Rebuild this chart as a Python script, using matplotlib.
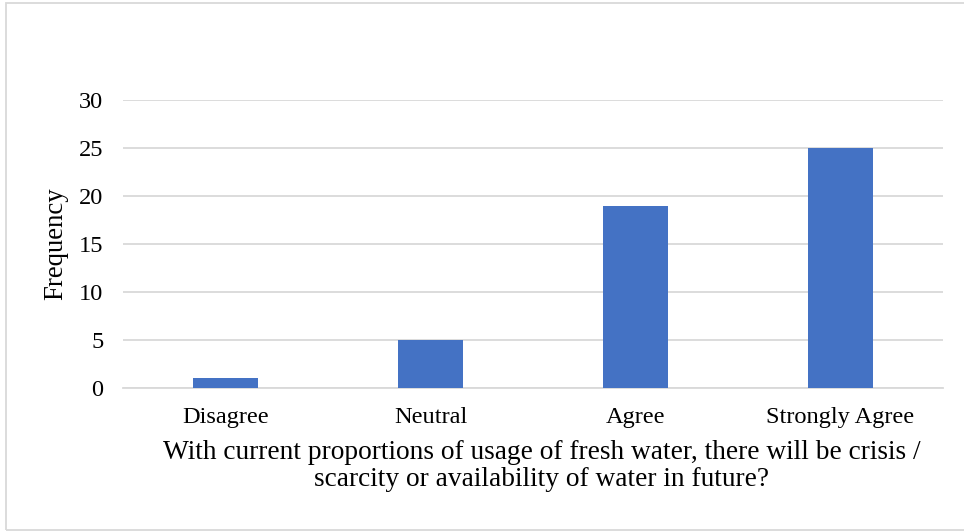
import matplotlib
matplotlib.use("Agg")
import matplotlib.pyplot as plt
from matplotlib.patches import Rectangle

categories = ["Disagree", "Neutral", "Agree", "Strongly Agree"]
frequency = [1, 5, 19, 25]
y_ticks = [0, 5, 10, 15, 20, 25, 30]

plt.rcParams["font.family"] = ["Liberation Serif", "DejaVu Serif"]

W, H = 964, 531
fig = plt.figure(figsize=(W / 100, H / 100), dpi=100)

# chart-area frame
fig.patches.append(Rectangle((6 / W, 1 / H), 1.2, (H - 4) / H, transform=fig.transFigure,
                             fill=False, edgecolor="#d9d9d9", linewidth=1.3))

ax = fig.add_axes([123 / W, 1 - 388 / H, (943 - 123) / W, (388 - 100) / H])
x = range(len(categories))
ax.bar(x, frequency, width=0.317, color="#4472c4", zorder=3)

ax.set_xlim(-0.5, len(categories) - 0.5)
ax.set_ylim(0, 30)
ax.set_yticks(y_ticks)
ax.set_xticks(list(x))
ax.set_xticklabels(categories)
ax.yaxis.grid(True, color="#d9d9d9", linewidth=1.3, zorder=0)
ax.set_axisbelow(True)
for s in ["top", "right", "left"]:
    ax.spines[s].set_visible(False)
ax.spines["bottom"].set_color("#d9d9d9")
ax.spines["bottom"].set_linewidth(1.3)
ax.tick_params(axis="both", length=0, labelsize=17.6, colors="#000000")
ax.tick_params(axis="y", pad=14)
ax.tick_params(axis="x", pad=14)

ax.set_ylabel("Frequency", fontsize=19.3)
ax.yaxis.set_label_coords(-0.067, 0.5)
ax.set_xlabel("With current proportions of usage of fresh water, there will be crisis /\n"
              "scarcity or availability of water in future?", fontsize=19.7, labelpad=8,
              linespacing=1.12)
ax.xaxis.label.set_x(0.5 + 8.5 / 820)

fig.savefig("out.png", dpi=100)
